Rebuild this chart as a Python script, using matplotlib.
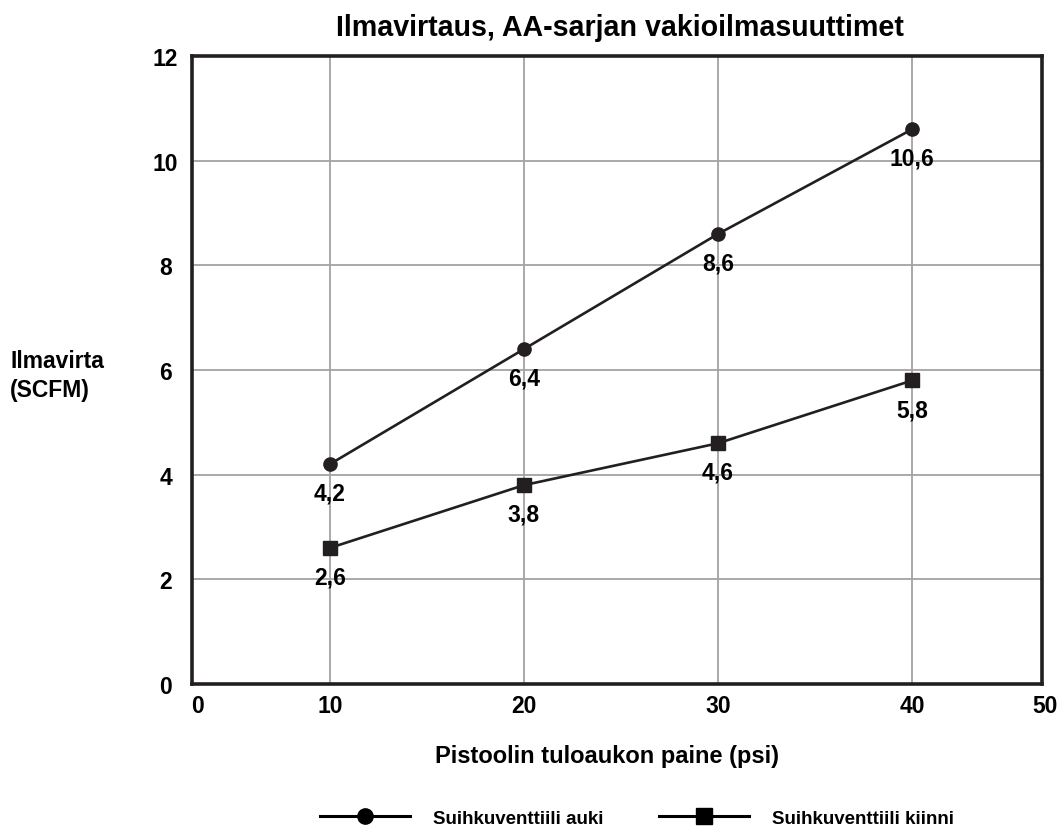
import matplotlib
matplotlib.use("Agg")
import matplotlib.pyplot as plt
from matplotlib.lines import Line2D
from matplotlib.transforms import ScaledTranslation
from matplotlib import font_manager

# Data
pressure_psi = [10, 20, 30, 40]
flow_open = [4.2, 6.4, 8.6, 10.6]      # Suihkuventtiili auki
flow_closed = [2.6, 3.8, 4.6, 5.8]     # Suihkuventtiili kiinni
open_labels = ["4,2", "6,4", "8,6", "10,6"]
closed_labels = ["2,6", "3,8", "4,6", "5,8"]
x_tick_labels = ["0", "10", "20", "30", "40", "50"]
y_ticks = [0, 2, 4, 6, 8, 10, 12]
series_names = ["Suihkuventtiili auki", "Suihkuventtiili kiinni"]

title = "Ilmavirtaus, AA-sarjan vakioilmasuuttimet"
x_title = "Pistoolin tuloaukon paine (psi)"
y_title = "Ilmavirta\n(SCFM)"

INK = "#231f20"
GRID = "#a3a3a3"
FONT = "Liberation Sans"
available = {f.name for f in font_manager.fontManager.ttflist}
TITLE_FONT = "Liberation Sans Narrow" if "Liberation Sans Narrow" in available else FONT
TITLE_SIZE = 24.5 if TITLE_FONT != FONT else 20.6

plt.rcParams["font.family"] = FONT
plt.rcParams["font.weight"] = "bold"

fig = plt.figure(figsize=(10.58, 8.29), dpi=100)
ax = fig.add_axes([0.1815, 0.1737, 0.8035, 0.7575])

X_LO, X_HI = 2.9, 46.7
ax.set_xlim(X_LO, X_HI)
ax.set_ylim(0, 12)

# grid
for x in pressure_psi:
    ax.axvline(x, color=GRID, lw=1.3, zorder=1)
for y in y_ticks[1:-1]:
    ax.axhline(y, color=GRID, lw=1.3, zorder=1)

ax.plot(pressure_psi, flow_open, color=INK, lw=1.9, marker="o",
        markersize=9.5, zorder=3)
ax.plot(pressure_psi, flow_closed, color=INK, lw=1.9, marker="s",
        markersize=9.5, zorder=3)

for x, y, t in zip(pressure_psi, flow_open, open_labels):
    ax.annotate(t, (x, y), xytext=(0, -21), textcoords="offset points",
                ha="center", va="center", fontsize=16.5, fontweight="bold",
                color="black", zorder=4)
for x, y, t in zip(pressure_psi, flow_closed, closed_labels):
    ax.annotate(t, (x, y), xytext=(0, -21), textcoords="offset points",
                ha="center", va="center", fontsize=16.5, fontweight="bold",
                color="black", zorder=4)

ax.set_xticks([X_LO] + pressure_psi + [X_HI])
ax.set_xticklabels(x_tick_labels)
ax.set_yticks(y_ticks)
ax.set_yticklabels([str(v) for v in y_ticks])
ax.tick_params(axis="both", length=0, labelsize=16.5)
ax.tick_params(axis="x", pad=7)
ax.tick_params(axis="y", pad=19)
for lab in ax.get_yticklabels():
    lab.set_horizontalalignment("center")
for lab in ax.get_xticklabels() + ax.get_yticklabels():
    lab.set_fontweight("bold")

# edge labels sit just inside/outside the frame corners
xlabs = ax.get_xticklabels()
xlabs[0].set_transform(xlabs[0].get_transform()
                       + ScaledTranslation(5 / 100, 0, fig.dpi_scale_trans))
xlabs[-1].set_transform(xlabs[-1].get_transform()
                        + ScaledTranslation(3 / 100, 0, fig.dpi_scale_trans))

for s in ax.spines.values():
    s.set_color(INK)
    s.set_linewidth(2.6)
    s.set_zorder(5)

fig.text(620 / 1058, 1 - 28 / 829, title, ha="center", va="center",
         fontsize=TITLE_SIZE, fontweight="bold", family=TITLE_FONT)
fig.text(607 / 1058, 1 - 757 / 829, x_title, ha="center", va="center",
         fontsize=17, fontweight="bold")
fig.text(10 / 1058, 1 - 376 / 829, y_title, ha="left", va="center",
         fontsize=16.5, fontweight="bold", linespacing=1.3)

handles = [
    Line2D([], [], color="black", lw=2.2, marker="o", markersize=11),
    Line2D([], [], color="black", lw=2.2, marker="s", markersize=11),
]
fig.legend(handles, series_names, loc="center", ncol=2,
           bbox_to_anchor=(637 / 1058, 1 - 819 / 829), frameon=False,
           prop={"size": 13.5, "weight": "bold"}, handlelength=4.8,
           handletextpad=1.2, columnspacing=3.0, borderpad=0)

fig.savefig("out.png", dpi=100, facecolor="white")
